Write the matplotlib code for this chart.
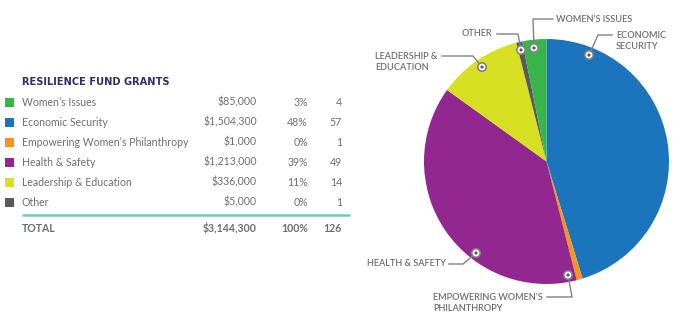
import matplotlib.pyplot as plt
from matplotlib.patches import Rectangle, Circle

plt.rcParams["font.family"] = ["Lato", "DejaVu Sans"]

W, H = 684, 334

categories = ["Women\u2019s Issues", "Economic Security", "Empowering Women\u2019s Philanthropy",
              "Health & Safety", "Leadership & Education", "Other"]
amounts = ["$85,000", "$1,504,300", "$1,000", "$1,213,000", "$336,000", "$5,000"]
percents = ["3%", "48%", "0%", "39%", "11%", "0%"]
grants = [4, 57, 1, 49, 14, 1]
total_amount = "$3,144,300"
total_percent = "100%"
colors = ["#39b54a", "#1c75bc", "#f7941d", "#92278f", "#d7df23", "#58595b"]

# pie runs clockwise from 12 o'clock, starting with Economic Security
pie_order = [1, 2, 3, 4, 5, 0]

TEXT = "#6d6e71"
LINE = "#808285"

fig = plt.figure(figsize=(W / 100, H / 100), dpi=100)

# ── Pie ──────────────────────────────────────────────────────────────────────
cx, cy, r = 546.5, 161.5, 122.5
pax = fig.add_axes([(cx - r) / W, (H - cy - r) / H, 2 * r / W, 2 * r / H])
pax.pie([grants[i] for i in pie_order], colors=[colors[i] for i in pie_order],
        startangle=90, counterclock=False, radius=1.0,
        wedgeprops=dict(linewidth=0))
pax.set_xlim(-1, 1)
pax.set_ylim(-1, 1)
pax.set_aspect("equal")
pax.axis("off")

# ── Overlay in pixel coordinates: table + callouts ───────────────────────────
ax = fig.add_axes([0, 0, 1, 1])
ax.set_xlim(0, W)
ax.set_ylim(H, 0)
ax.axis("off")
ax.patch.set_alpha(0)

ax.text(22, 82, "RESILIENCE FUND GRANTS", fontsize=7.1, fontweight="bold",
        color="#2e2d6b", va="center", ha="left", family=["DejaVu Sans"])

fs = 7.6
for i, (cat, amt, pct, n) in enumerate(zip(categories, amounts, percents, grants)):
    y = 102 + 20 * i
    ax.add_patch(Rectangle((5, y - 4.5), 9, 9, color=colors[i], lw=0))
    ax.text(22, y, cat, fontsize=fs, color=TEXT, va="center", ha="left")
    ax.text(257, y, amt, fontsize=fs, color=TEXT, va="center", ha="right")
    ax.text(308, y, pct, fontsize=fs, color=TEXT, va="center", ha="right")
    ax.text(342, y, str(n), fontsize=fs, color=TEXT, va="center", ha="right")

ax.plot([22, 350], [215, 215], color="#6ccdb0", lw=1.8, solid_capstyle="butt")
y = 228
tw = "bold"
ax.text(22, y, "TOTAL", fontsize=fs, color=TEXT, va="center", ha="left", fontweight=tw)
ax.text(257, y, total_amount, fontsize=fs, color=TEXT, va="center", ha="right", fontweight=tw)
ax.text(308, y, total_percent, fontsize=fs, color=TEXT, va="center", ha="right", fontweight=tw)
ax.text(342, y, str(sum(grants)), fontsize=fs, color=TEXT, va="center", ha="right", fontweight=tw)

# callouts: marker point, leader path, label anchor
callouts = [
    ("WOMEN\u2019S ISSUES", (534, 48), [(534, 48), (533, 19), (553, 19)], (556, 19)),
    ("ECONOMIC\nSECURITY", (589, 55), [(589, 55), (598, 35), (612, 35)], (616, 41)),
    ("OTHER", (521, 50), [(521, 50), (518, 34), (497, 34)], (462, 34)),
    ("LEADERSHIP &\nEDUCATION", (482, 67), [(482, 67), (473, 56), (442, 56)], (375, 62)),
    ("HEALTH & SAFETY", (476, 253), [(476, 253), (463, 264), (449, 264)], (367, 264)),
    ("EMPOWERING WOMEN\u2019S\nPHILANTHROPY", (568, 275), [(568, 275), (572, 297), (547, 297)],
     (433, 303)),
]
for label, (mx, my), path, (tx, ty) in callouts:
    xs, ys = zip(*path)
    ax.plot(xs, ys, color=LINE, lw=1.0, zorder=3)
    ax.add_patch(Circle((mx, my), 4.2, facecolor="white", edgecolor=LINE, lw=1.2, zorder=4))
    ax.add_patch(Circle((mx, my), 1.6, facecolor="#58595b", lw=0, zorder=5))
    ax.text(tx, ty, label, fontsize=6.6, color=TEXT, va="center", ha="left",
            fontweight="semibold", linespacing=1.25)

fig.savefig("out.png", dpi=100, facecolor="white")
